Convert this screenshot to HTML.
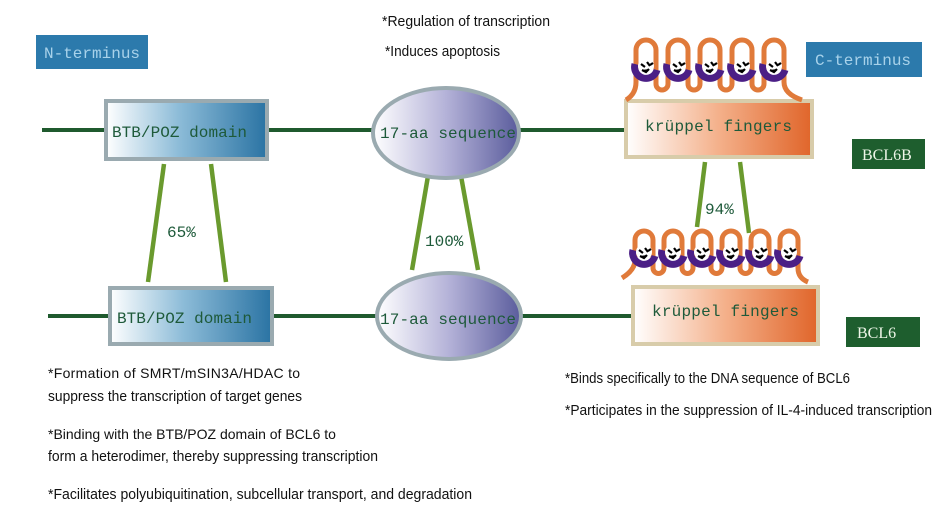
<!DOCTYPE html>
<html><head><meta charset="utf-8"><style>
html,body{margin:0;padding:0;background:#fff;}
svg{display:block;}
.mono{font-family:"Liberation Mono",monospace;font-size:16px;fill:#1e5a3a;}
.ann{font-family:"Liberation Sans",sans-serif;font-size:14.5px;fill:#111;}
</style></head><body>
<svg width="945" height="526" viewBox="0 0 945 526" xmlns="http://www.w3.org/2000/svg">
<defs>
<linearGradient id="gb" x1="0" x2="1" y1="0" y2="0"><stop offset="0" stop-color="#ffffff"/><stop offset="0.45" stop-color="#8dbcd8"/><stop offset="1" stop-color="#2a73a3"/></linearGradient>
<linearGradient id="ge" x1="0" x2="1" y1="0" y2="0"><stop offset="0" stop-color="#ffffff"/><stop offset="0.5" stop-color="#b4b2d8"/><stop offset="1" stop-color="#5a5c9c"/></linearGradient>
<linearGradient id="go" x1="0" x2="1" y1="0" y2="0"><stop offset="0" stop-color="#ffffff"/><stop offset="0.5" stop-color="#f4b08a"/><stop offset="1" stop-color="#e0652a"/></linearGradient>
<g id="zf">
<path d="M-11,-4 A11 11 0 0 0 11,2" fill="none" stroke="#4b1f86" stroke-width="7"/>
<circle cx="0" cy="-2" r="8" fill="#fff"/>
<path d="M-5,-4 L-1,-1 M1,-6 L4,-2 M-4,2 L0,4 L3,1 M4,-3 L7,-5" stroke="#000" stroke-width="2.2"/>
</g>
</defs>

<g stroke="#1f5a2e" stroke-width="4">
<line x1="42" y1="130" x2="106" y2="130"/><line x1="267" y1="130" x2="372" y2="130"/><line x1="520" y1="130" x2="626" y2="130"/>
<line x1="48" y1="316" x2="110" y2="316"/><line x1="272" y1="316" x2="378" y2="316"/><line x1="521" y1="316" x2="632" y2="316"/>
</g>
<g stroke="#6a9a2e" stroke-width="4.5">
<line x1="164" y1="164" x2="148" y2="282"/><line x1="211" y1="164" x2="226" y2="282"/>
<line x1="428" y1="176" x2="412" y2="270"/><line x1="461" y1="176" x2="478" y2="270"/>
<line x1="705" y1="162" x2="697" y2="227"/><line x1="740" y1="162" x2="749" y2="233"/>
</g>
<text class="mono" x="167" y="237">65%</text>
<text class="mono" x="425" y="246">100%</text>
<text class="mono" x="705" y="214">94%</text>

<rect x="36" y="35" width="112" height="34" fill="#2c7aac"/>
<text x="44" y="58" style="font-family:'Liberation Mono',monospace;font-size:16px;fill:#a8d2ea">N-terminus</text>
<rect x="806" y="42" width="116" height="35" fill="#2c7aac"/>
<text x="815" y="65" style="font-family:'Liberation Mono',monospace;font-size:16px;fill:#a8d2ea">C-terminus</text>

<rect x="106" y="101" width="161" height="58" fill="url(#gb)" stroke="#9aaab0" stroke-width="4"/>
<text class="mono" x="112" y="137" textLength="135">BTB/POZ domain</text>
<rect x="110" y="288" width="162" height="56" fill="url(#gb)" stroke="#9aaab0" stroke-width="4"/>
<text class="mono" x="117" y="323" textLength="135">BTB/POZ domain</text>

<ellipse cx="446" cy="133" rx="73" ry="45" fill="url(#ge)" stroke="#9aaab0" stroke-width="4"/>
<text class="mono" x="380" y="138" textLength="136">17-aa sequence</text>
<ellipse cx="449" cy="316" rx="72" ry="43" fill="url(#ge)" stroke="#9aaab0" stroke-width="4"/>
<text class="mono" x="380" y="324" textLength="136">17-aa sequence</text>

<rect x="626" y="101" width="186" height="56" fill="url(#go)" stroke="#d8ccaa" stroke-width="4"/>
<text class="mono" x="645" y="131" textLength="147">krüppel fingers</text>
<rect x="633" y="287" width="185" height="57" fill="url(#go)" stroke="#d8ccaa" stroke-width="4"/>
<text class="mono" x="652" y="316" textLength="147">krüppel fingers</text>

<path d="M626,100 Q636,94 636,82 L636,50 A10 10 0 0 1 656,50 L656,84 A6 6 0 0 0 668,84 L668,50 A10 10 0 0 1 688,50 L688,84 A6 6 0 0 0 700,84 L700,50 A10 10 0 0 1 720,50 L720,84 A6 6 0 0 0 732,84 L732,50 A10 10 0 0 1 752,50 L752,84 A6 6 0 0 0 764,84 L764,50 A10 10 0 0 1 784,50 L784,82 Q784,94 802,100" fill="none" stroke="#e07a3a" stroke-width="5"/>
<use href="#zf" x="646" y="68"/><use href="#zf" x="678" y="68"/><use href="#zf" x="710" y="68"/><use href="#zf" x="742" y="68"/><use href="#zf" x="774" y="68"/>
<path d="M622,278 Q635,270 635,260 L635,240 A9 9 0 0 1 653,240 L653,268 A5 5 0 0 0 664,268 L664,240 A9 9 0 0 1 682,240 L682,268 A5 5 0 0 0 693,268 L693,240 A9 9 0 0 1 711,240 L711,268 A5 5 0 0 0 722,268 L722,240 A9 9 0 0 1 740,240 L740,268 A5 5 0 0 0 751,268 L751,240 A9 9 0 0 1 769,240 L769,268 A5 5 0 0 0 780,268 L780,240 A9 9 0 0 1 798,240 L798,268 Q798,278 808,282" fill="none" stroke="#e07a3a" stroke-width="5"/>
<use href="#zf" x="644" y="254"/><use href="#zf" x="673" y="254"/><use href="#zf" x="702" y="254"/><use href="#zf" x="731" y="254"/><use href="#zf" x="760" y="254"/><use href="#zf" x="789" y="254"/>

<rect x="852" y="139" width="73" height="30" fill="#1e5e2e"/>
<text x="862" y="160" style="font-family:'Liberation Serif',serif;font-size:16px;fill:#eef6e8">BCL6B</text>
<rect x="846" y="317" width="74" height="30" fill="#1e5e2e"/>
<text x="857" y="338" style="font-family:'Liberation Serif',serif;font-size:16px;fill:#eef6e8">BCL6</text>

<text class="ann" x="382" y="26" textLength="168" lengthAdjust="spacingAndGlyphs">*Regulation of transcription</text>
<text class="ann" x="385" y="56" textLength="115" lengthAdjust="spacingAndGlyphs">*Induces apoptosis</text>
<text class="ann" x="48" y="378" style="font-size:14px;letter-spacing:0.3px">*Formation of SMRT/mSIN3A/HDAC to</text>
<text class="ann" x="48" y="401" textLength="254" lengthAdjust="spacingAndGlyphs">suppress the transcription of target genes</text>
<text class="ann" x="48" y="439" style="font-size:14px">*Binding with the BTB/POZ domain of BCL6 to</text>
<text class="ann" x="48" y="461" textLength="330" lengthAdjust="spacingAndGlyphs">form a heterodimer, thereby suppressing transcription</text>
<text class="ann" x="48" y="499" textLength="424" lengthAdjust="spacingAndGlyphs">*Facilitates polyubiquitination, subcellular transport, and degradation</text>
<text class="ann" x="565" y="383" textLength="285" lengthAdjust="spacingAndGlyphs">*Binds specifically to the DNA sequence of BCL6</text>
<text class="ann" x="565" y="415" textLength="367" lengthAdjust="spacingAndGlyphs">*Participates in the suppression of IL-4-induced transcription</text>
</svg>
</body></html>
